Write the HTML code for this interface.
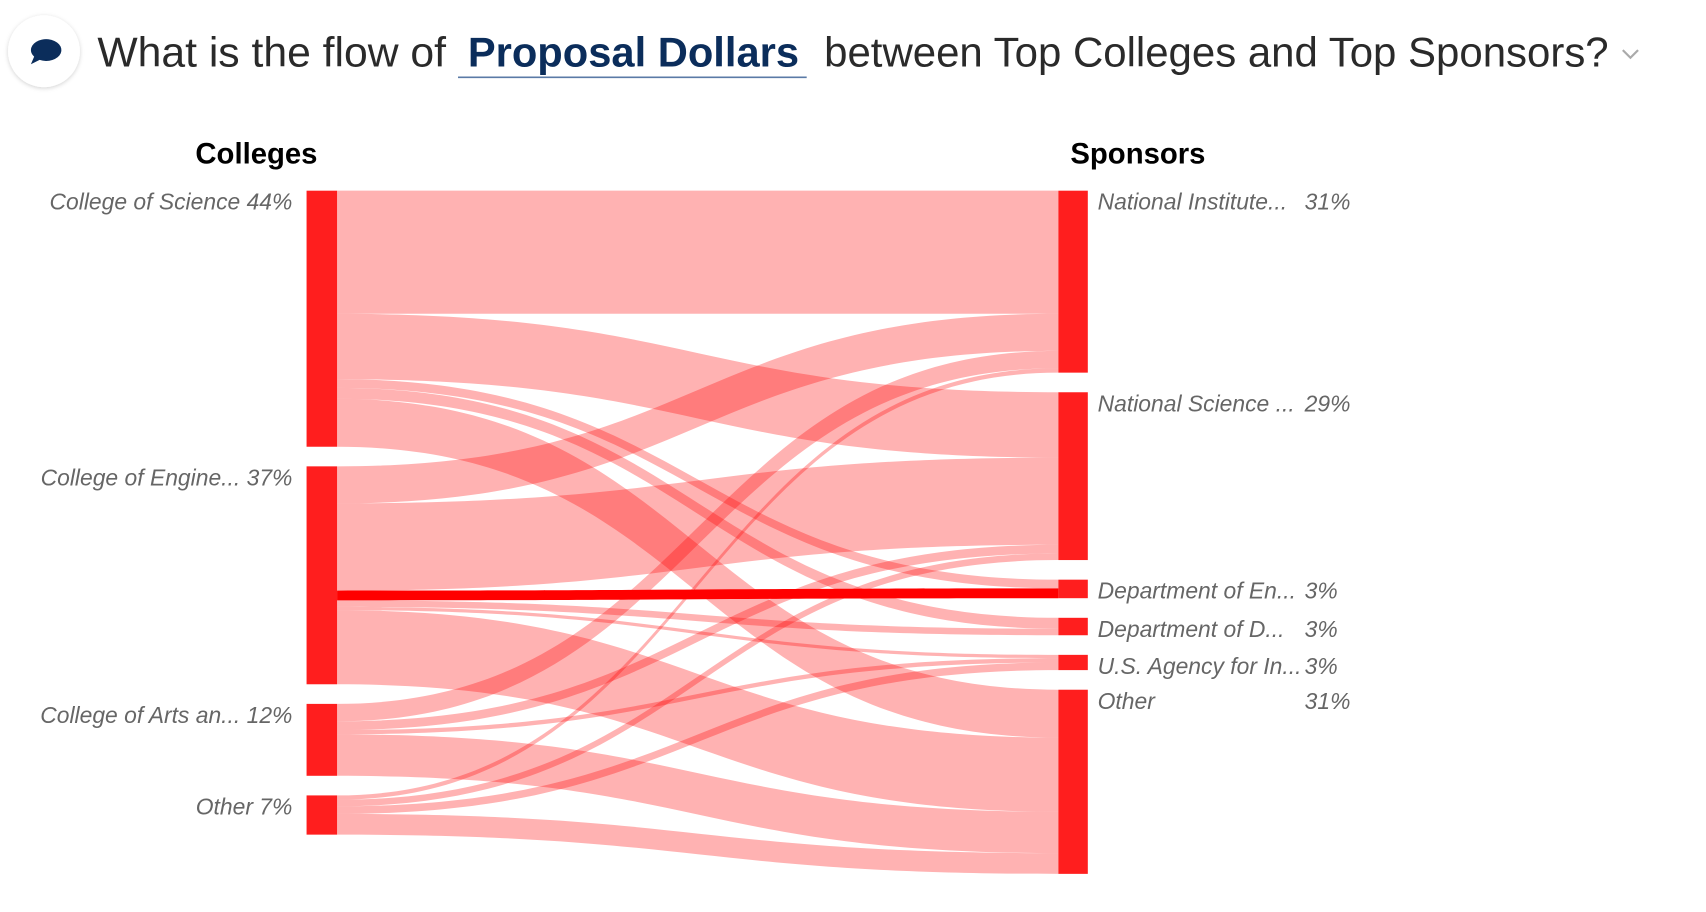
<!DOCTYPE html>
<html><head><meta charset="utf-8"><style>
html,body{margin:0;padding:0;background:#fff;width:1706px;height:912px;overflow:hidden}
svg{display:block}
text{font-family:"Liberation Sans",sans-serif}
</style></head><body>
<svg id="chart" width="1706" height="912" viewBox="0 0 1565 837" xmlns="http://www.w3.org/2000/svg">
<defs><filter id="sh" x="-30%" y="-30%" width="160%" height="160%"><feDropShadow dx="0" dy="1" stdDeviation="2" flood-color="#000" flood-opacity="0.18"/></filter></defs>
<g>
<circle cx="40" cy="47" r="33" fill="#fff" filter="url(#sh)"/>
<path d="M28 46 a14 10 0 1 1 8 9 l-8 4 l3 -7 a14 10 0 0 1 -3 -6z" fill="#0b2d5b"/>
<text x="89" y="61" font-size="38" fill="#2a2a2a" textLength="320" lengthAdjust="spacingAndGlyphs">What is the flow of</text>
<text x="429" y="61" font-size="38" font-weight="bold" fill="#0b2d5b" textLength="304" lengthAdjust="spacingAndGlyphs">Proposal Dollars</text>
<line x1="420" y1="71" x2="740" y2="71" stroke="#5a7aa6" stroke-width="1.5"/>
<text x="756" y="61" font-size="38" fill="#2a2a2a" textLength="720" lengthAdjust="spacingAndGlyphs">between Top Colleges and Top Sponsors?</text>
<path d="M1489 46 l7 7 l7 -7" fill="none" stroke="#aaa" stroke-width="2"/>
</g>
<text x="235" y="150" font-size="27" font-weight="bold" text-anchor="middle" fill="#000" textLength="112" lengthAdjust="spacingAndGlyphs">Colleges</text>
<text x="982" y="150" font-size="27" font-weight="bold" fill="#000" textLength="124" lengthAdjust="spacingAndGlyphs">Sponsors</text>
<g id="links"></g>
<g id="nodes"></g>
</svg>
<script>
const colleges = ["College of Science", "College of Engine...", "College of Arts an...", "Other"];
const collegePct = ["44%", "37%", "12%", "7%"];
const sponsors = ["National Institute...", "National Science ...", "Department of En...", "Department of D...", "U.S. Agency for In...", "Other"];
const sponsorPct = ["31%", "29%", "3%", "3%", "3%", "31%"];
// flow values: rows = colleges, cols = sponsors
const flowScience = [113, 60, 8, 10, 0, 44];
const flowEngineering = [34, 80, 9, 6, 3, 68];
const flowArts = [16, 8, 0, 0, 4, 38];
const flowOther = [4, 6, 0, 0, 7, 19];
const highlighted = [1, 2]; // engineering -> dept of energy

const flows = [flowScience, flowEngineering, flowArts, flowOther];
const NS = "http://www.w3.org/2000/svg";
const top0 = 175, gap = 18, unit = 1;
const xL0 = 281, xL1 = 309, xR0 = 971, xR1 = 998;
const linksG = document.getElementById('links');
const nodesG = document.getElementById('nodes');
function mk(tag, attrs, parent){const e=document.createElementNS(NS,tag);for(const k in attrs)e.setAttribute(k,attrs[k]);parent.appendChild(e);return e;}

const leftTot = flows.map(r => r.reduce((a,b)=>a+b,0));
const rightTot = sponsors.map((_,j) => flows.reduce((a,r)=>a+r[j],0));
const leftY = []; let y = top0;
leftTot.forEach(t => { leftY.push(y); y += t*unit + gap; });
const rightY = []; y = top0;
rightTot.forEach(t => { rightY.push(y); y += t*unit + gap; });

const lOff = leftY.slice(), rOff = rightY.slice();
const linkList = [];
flows.forEach((row,i) => row.forEach((v,j) => {
  if (v <= 0) return;
  const h = v*unit;
  const y0 = lOff[i], y1 = rOff[j];
  lOff[i] += h; rOff[j] += h;
  linkList.push({i,j,y0,y1,h});
}));
const mx = (xL1 + xR0)/2;
linkList.forEach(l => {
  const hi = l.i===highlighted[0] && l.j===highlighted[1];
  const d = `M${xL1},${l.y0} C${mx},${l.y0} ${mx},${l.y1} ${xR0},${l.y1} L${xR0},${l.y1+l.h} C${mx},${l.y1+l.h} ${mx},${l.y0+l.h} ${xL1},${l.y0+l.h} Z`;
  const p = mk('path', {d, fill: '#ff0000', 'fill-opacity': hi ? 1 : 0.3}, linksG);
  
  
});

colleges.forEach((c,i) => {
  const r = mk('rect', {x:xL0, y:leftY[i], width:xL1-xL0, height:leftTot[i]*unit, fill:'#ff1e1e'}, nodesG);
  
  
  const t = mk('text', {x:268, y:leftY[i]+17.5, 'font-size':21, 'font-style':'italic', fill:'#666', 'text-anchor':'end'}, nodesG);
  t.textContent = c + ' ' + collegePct[i];
  
  
});
sponsors.forEach((s,j) => {
  const r = mk('rect', {x:xR0, y:rightY[j], width:xR1-xR0, height:rightTot[j]*unit, fill:'#ff1e1e'}, nodesG);
  
  
  const t = mk('text', {x:1007, y:rightY[j]+17.5, 'font-size':21, 'font-style':'italic', fill:'#666'}, nodesG);
  t.textContent = s;
  
  
  const p = mk('text', {x:1197, y:rightY[j]+17.5, 'font-size':21, 'font-style':'italic', fill:'#666'}, nodesG);
  p.textContent = sponsorPct[j];
  
  
});
</script>
</body></html>
